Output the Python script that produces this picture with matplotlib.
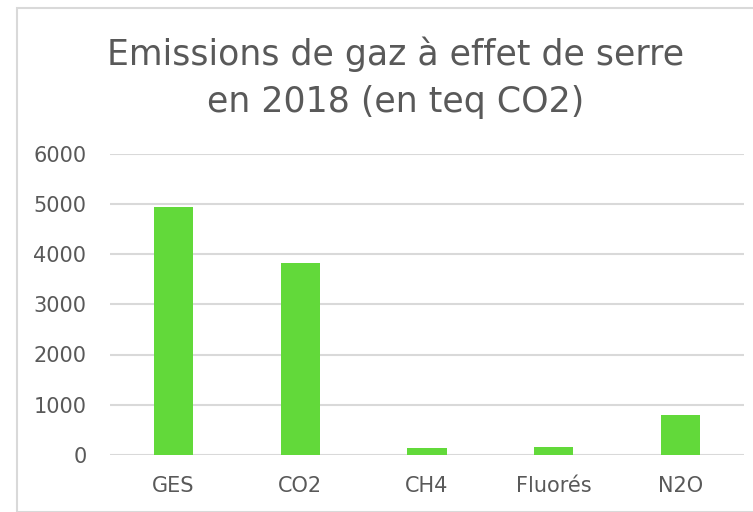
import matplotlib
matplotlib.use("Agg")
import matplotlib.pyplot as plt
from matplotlib.patches import Rectangle

categories = ["GES", "CO2", "CH4", "Fluorés", "N2O"]
values = [4930, 3820, 140, 160, 800]
yticks = [0, 1000, 2000, 3000, 4000, 5000, 6000]
title_lines = ["Emissions de gaz à effet de serre", "en 2018 (en teq CO2)"]

plt.rcParams['font.family'] = ['DejaVu Sans']
W, H = 753, 512
fig = plt.figure(figsize=(W/100, H/100), dpi=100)
fig.patch.set_facecolor('white')

# border
fig.patches.append(Rectangle((17/W, 0), 1, 1 - 8/H, transform=fig.transFigure,
                             fill=False, edgecolor='#d9d9d9', linewidth=1.5))

ax = fig.add_axes([110/W, 1 - 455/H, (744-110)/W, (455-153.5)/H])
x = range(len(categories))
ax.bar(x, values, width=0.31, color='#62d93a', zorder=3)
ax.set_xlim(-0.5, len(categories) - 0.5)
ax.set_ylim(0, 6000)
ax.set_yticks(yticks)
ax.set_yticklabels([str(t) for t in yticks])
ax.set_xticks(list(x))
ax.set_xticklabels(categories)
ax.grid(axis='y', color='#d9d9d9', linewidth=1.5, zorder=0)
for s in ax.spines.values():
    s.set_visible(False)
ax.tick_params(length=0, labelsize=15, labelcolor='#595959')
ax.tick_params(axis='x', pad=15)
ax.tick_params(axis='y', pad=17)

for i, line in enumerate(title_lines):
    fig.text(396/W, 1 - (65 + 47*i)/H, line, ha='center', va='baseline',
             fontsize=25, color='#595959')

fig.savefig("out.png", dpi=100, facecolor='white')
